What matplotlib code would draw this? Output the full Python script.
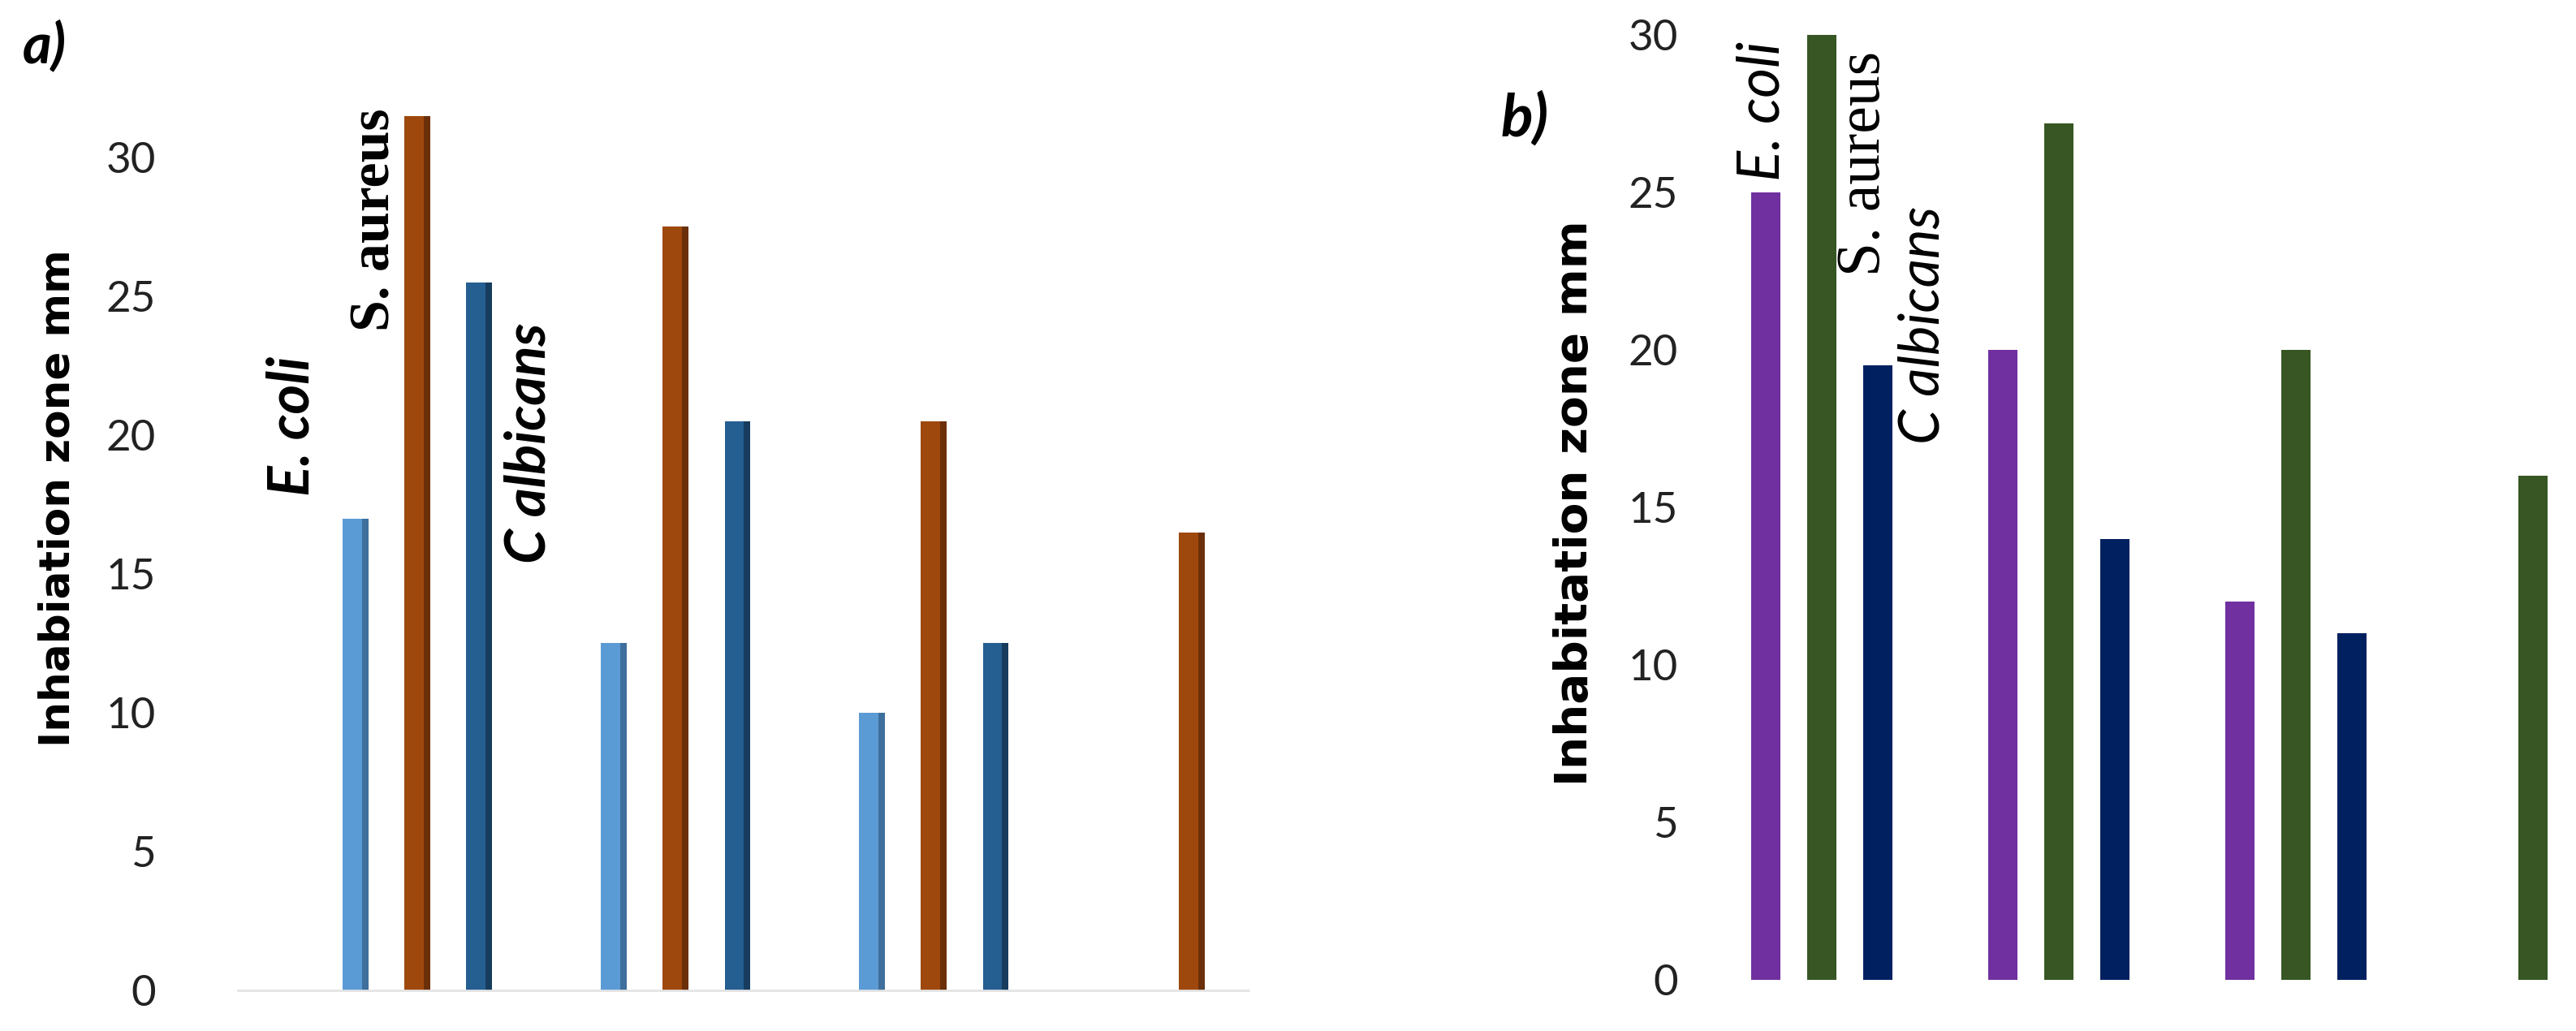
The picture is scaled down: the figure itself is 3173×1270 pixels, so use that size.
import matplotlib.pyplot as plt
import numpy as np

plt.rcParams['font.family'] = ['Lato', 'DejaVu Sans']

# panel a) values (inhibition zone, mm)
groups = [0, 1, 2, 3]
a_ecoli = [17, 12.5, 10, 0]
a_saureus = [31.5, 27.5, 20.5, 16.5]
a_calbicans = [25.5, 20.5, 12.5, 0]

# panel b) values
b_ecoli = [25, 20, 12, 0]
b_saureus = [30, 27.2, 20, 16]
b_calbicans = [19.5, 14, 11, 0]

yticks = [0, 5, 10, 15, 20, 25, 30]

W, H = 3173, 1270
fig = plt.figure(figsize=(W / 100, H / 100), dpi=100)
rend = fig.canvas.get_renderer()
x = np.array(groups)


def put(text, cx, cy, length, rot=90, **kw):
    # place text centred on a pixel spot and size it to a given length in px
    t = fig.text(cx / W, 1 - cy / H, text, rotation=rot, ha="center",
                 va="center", fontsize=40, **kw)
    bb = t.get_window_extent(rend)
    size = bb.height if rot == 90 else bb.width
    t.set_fontsize(40 * length / size)
    return t


# ---- panel a (3D-look columns) ----
axA = fig.add_axes([0.0788, 0.0394, 0.419, 0.8887])
a_series = [(a_ecoli, -0.24, "#5b9bd5", "#3f6f9c"),
            (a_saureus, 0.0, "#9e480e", "#6b2f0a"),
            (a_calbicans, 0.24, "#255e91", "#173c5e")]
for vals, off, front, side in a_series:
    axA.bar(x + off - 0.0125, vals, width=0.075, color=front, linewidth=0)
    axA.bar(x + off + 0.0375, vals, width=0.025, color=side, linewidth=0)
axA.set_xlim(-0.83, 3.35)
axA.set_ylim(0, 33)
axA.set_yticks(yticks)
axA.set_xticks([])
for s in ["top", "right", "left"]:
    axA.spines[s].set_visible(False)
axA.spines["bottom"].set_bounds(-0.695, 3.22)
axA.spines["bottom"].set_color("#e3e3e3")
axA.spines["bottom"].set_linewidth(2)
axA.tick_params(axis="y", length=0, pad=42, labelsize=38, labelcolor="#222222")

# ---- panel b ----
axB = fig.add_axes([0.665, 0.0496, 0.335, 0.947])
b_series = [(b_ecoli, -0.236, "#7030a0"),
            (b_saureus, 0.0, "#375623"),
            (b_calbicans, 0.236, "#002060")]
for vals, off, col in b_series:
    axB.bar(x + off, vals, width=0.123, color=col, linewidth=0)
axB.set_xlim(-0.459, 3.18)
axB.set_ylim(0, 31)
axB.set_yticks(yticks)
axB.set_xticks([])
for s in ["top", "right", "left", "bottom"]:
    axB.spines[s].set_visible(False)
axB.tick_params(axis="y", length=0, pad=31, labelsize=38, labelcolor="#222222")

# axis titles
put("Inhabiation zone mm", 72, 614, 612, family="DejaVu Sans", fontweight="bold")
put("Inhabitation zone mm", 1940, 620, 696, family="DejaVu Sans", fontweight="bold")

# panel letters
put("a)", 55, 57, 54, rot=0, fontweight="bold", style="italic")
put("b)", 1878, 146, 59, rot=0, fontweight="bold", style="italic")

# species labels, panel a
put("E. coli", 360, 525, 172, fontweight="bold", style="italic")
put("S. aureus", 463, 271, 274, fontweight="bold", family="Liberation Serif")
put("C albicans", 652, 546, 296, fontweight="bold", style="italic")

# species labels, panel b
put("E. coli", 2171, 137, 172, style="italic")
put("S. aureus", 2297, 201, 277, family="Liberation Serif")
put("C albicans", 2369, 400, 293, style="italic")

fig.savefig("out.png", dpi=100, facecolor="white")
